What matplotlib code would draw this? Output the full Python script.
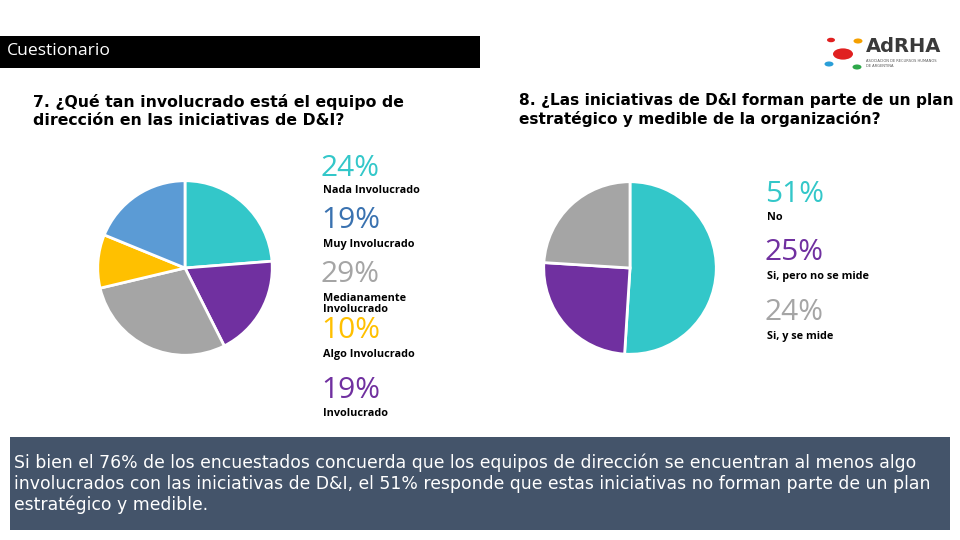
import matplotlib.pyplot as plt
from matplotlib.patches import Rectangle, Circle

# datos
q7_labels = ['Nada Involucrado', 'Involucrado', 'Medianamente\nInvolucrado', 'Algo Involucrado', 'Muy Involucrado']
q7_values = [24, 19, 29, 10, 19]
q7_colors = ['#33c7c9', '#7030a0', '#a5a5a5', '#ffc000', '#5b9bd5']

q8_labels = ['No', 'Si, pero no se mide', 'Si, y se mide']
q8_values = [51, 25, 24]
q8_colors = ['#33c7c9', '#7030a0', '#a5a5a5']

W, H = 960, 540
fig = plt.figure(figsize=(9.6, 5.4), dpi=100)
fig.patch.set_facecolor('white')

def fx(x):
    return x / W

def fy(y):
    return 1 - y / H

# barra de titulo
fig.patches.append(Rectangle((0, fy(68)), fx(480), (68 - 36) / H, transform=fig.transFigure,
                             facecolor='black', edgecolor='none'))
fig.text(fx(7), fy(51), 'Cuestionario', color='white', fontsize=12.6, family='Open Sans', va='center')

# logo
for (x, y, r, c) in [(843, 54, 10, '#e02020'), (831, 40, 4, '#e02020'), (858, 41, 4.5, '#f5a000'),
                     (829, 64, 4.5, '#2a9fd8'), (857, 67, 4.5, '#2ea84a')]:
    fig.patches.append(Circle((fx(x), fy(y)), r / W, transform=fig.transFigure, facecolor=c, edgecolor='none'))
fig.text(fx(866), fy(47), 'AdRHA', color='#3a3a3a', fontsize=14, weight='bold', family='DejaVu Sans', va='center')
fig.text(fx(866), fy(61), 'ASOCIACION DE RECURSOS HUMANOS', color='#555555', fontsize=2.6, va='center')
fig.text(fx(866), fy(66), 'DE ARGENTINA', color='#555555', fontsize=2.6, va='center')

# preguntas
fig.text(fx(33), fy(111), '7. ¿Qué tan involucrado está el equipo de\ndirección en las iniciativas de D&I?',
         fontsize=11.3, weight='bold', family='DejaVu Sans', va='center', linespacing=1.2)
fig.text(fx(519), fy(110), '8. ¿Las iniciativas de D&I forman parte de un plan\nestratégico y medible de la organización?',
         fontsize=11.1, weight='bold', family='DejaVu Sans', va='center', linespacing=1.2)

def pie(cx, cy, r, values, colors):
    ax = fig.add_axes([fx(cx - r), fy(cy + r), 2 * r / W, 2 * r / H])
    ax.pie(values, colors=colors, startangle=90, counterclock=False,
           wedgeprops=dict(edgecolor='white', linewidth=2))
    ax.set_xlim(-1.02, 1.02)
    ax.set_ylim(-1.02, 1.02)
    ax.set_aspect('equal')
    ax.axis('off')

pie(185, 268, 89, q7_values, q7_colors)
pie(630, 268, 88, q8_values, q8_colors)

# etiquetas pregunta 7
q7_order = [0, 4, 2, 3, 1]
q7_pct_colors = {0: '#33c7c9', 4: '#3a72b0', 2: '#a5a5a5', 3: '#ffc000', 1: '#7030a0'}
pct_y = [168, 221, 275, 331, 390]
lab_y = [191, 244, 304, 355, 414]
for i, py, ly in zip(q7_order, pct_y, lab_y):
    fig.text(fx(321), fy(py), '%d%%' % q7_values[i], color=q7_pct_colors[i], fontsize=21.5,
             family='Open Sans', va='center')
    fig.text(fx(323), fy(ly), q7_labels[i], color='black', fontsize=7.8, weight='bold',
             family='Open Sans', va='center', linespacing=0.95)

# etiquetas pregunta 8
pct_y8 = [194, 253, 313]
lab_y8 = [217, 276, 336]
for i in range(3):
    fig.text(fx(765), fy(pct_y8[i]), '%d%%' % q8_values[i], color=q8_colors[i], fontsize=21.5,
             family='Open Sans', va='center')
    fig.text(fx(767), fy(lab_y8[i]), q8_labels[i], color='black', fontsize=7.8, weight='bold',
             family='Open Sans', va='center')

# caja de conclusion
fig.patches.append(Rectangle((fx(10), fy(530)), fx(940), (530 - 437) / H, transform=fig.transFigure,
                             facecolor='#44546a', edgecolor='none'))
fig.text(fx(14), fy(484),
         'Si bien el 76% de los encuestados concuerda que los equipos de dirección se encuentran al menos algo\n'
         'involucrados con las iniciativas de D&I, el 51% responde que estas iniciativas no forman parte de un plan\n'
         'estratégico y medible.',
         color='white', fontsize=12.4, family='DejaVu Sans', va='center', linespacing=1.2)

fig.savefig('out.png', dpi=100)
